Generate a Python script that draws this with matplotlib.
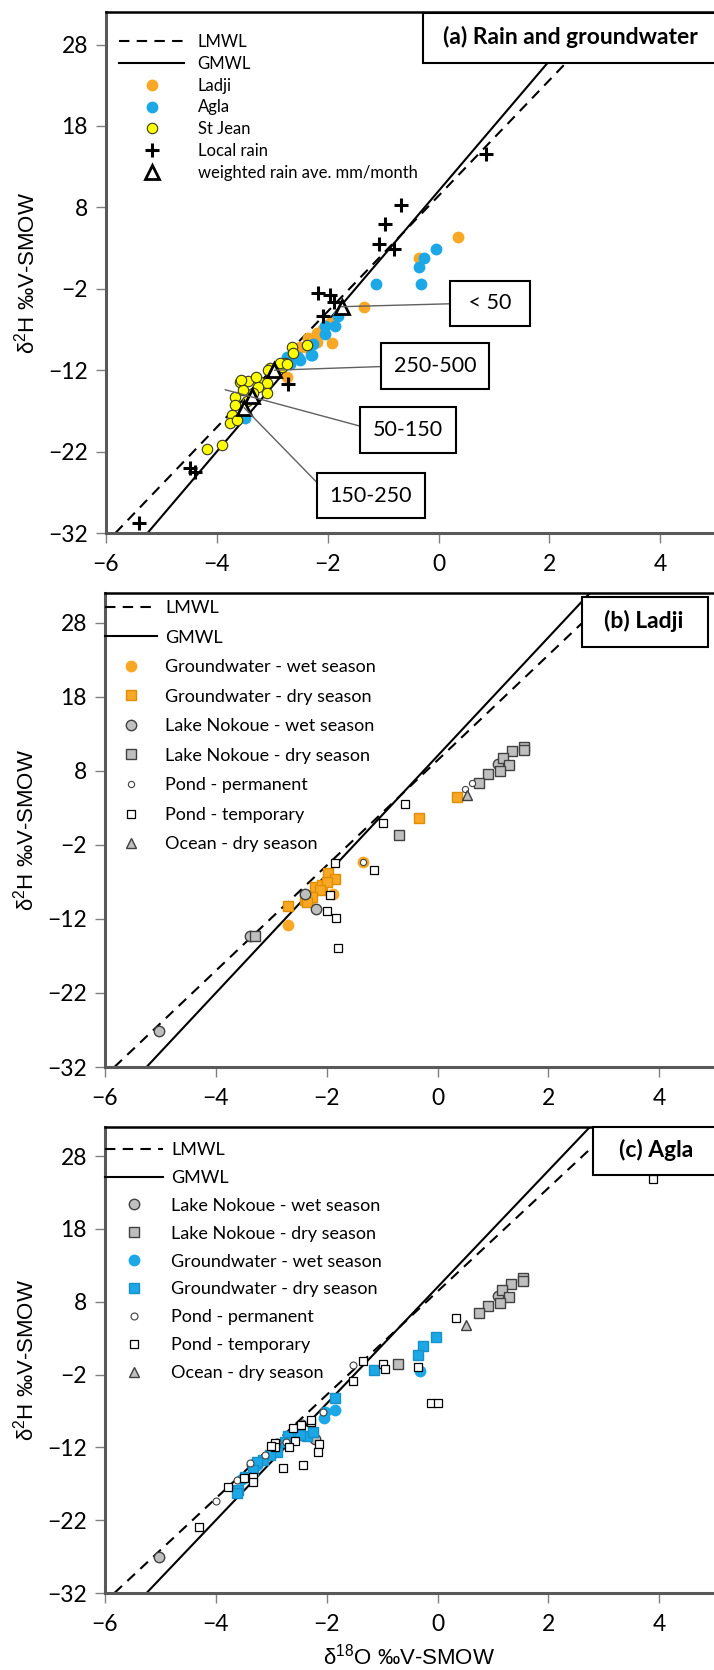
# recreate the three d2H vs d18O panels (rain/groundwater, Ladji, Agla)
import matplotlib
matplotlib.use('Agg')
import matplotlib.pyplot as plt
from matplotlib.patches import Rectangle

plt.rcParams['font.family'] = ['Lato', 'DejaVu Sans']
plt.rcParams['mathtext.fontset'] = 'custom'
plt.rcParams['mathtext.rm'] = 'Liberation Sans'
plt.rcParams['mathtext.it'] = 'Liberation Sans:italic'

ORANGE = '#F9A825'
BLUE = '#1CA8E6'
GREY = '#BFBFBF'
EDGE = '#404040'

# meteoric water lines (end points)
lmwl_x = [-5.83, 3.18]
lmwl_y = [-32, 32]
gmwl_x = [-5.25, 2.75]
gmwl_y = [-32, 32]

# ---- panel (a) rain and groundwater
ladji_x = [0.35, -0.35, -1.34, -2.35, -2.2, -1.92, -1.96, -2.4, -2.08, -2.73, -2.5, -2.2]
ladji_y = [4.4, 1.8, -4.2, -8.0, -7.4, -8.6, -6.2, -9.1, -7.0, -12.8, -9.2, -8.5]
agla_x = [-0.04, -0.27, -0.35, -1.12, -0.31, -1.81, -2.05, -1.87, -2.05, -2.26, -2.28,
          -2.5, -2.68, -2.73, -2.3, -2.53, -3.5]
agla_y = [2.9, 1.8, 0.7, -1.4, -1.4, -5.4, -6.6, -6.6, -7.6, -8.8, -10.1,
          -10.7, -11.3, -10.4, -10.1, -10.4, -17.9]
stjean_x = [-2.64, -2.62, -2.37, -2.77, -2.82, -3.04, -3.08, -2.86, -2.73, -3.58, -3.44,
            -3.22, -3.09, -3.26, -3.53, -3.35, -3.09, -3.67, -3.67, -3.73, -3.76, -3.64,
            -3.91, -4.18, -3.56, -3.3, -3.45]
stjean_y = [-9.2, -9.9, -8.9, -11.1, -11.6, -11.7, -12.0, -11.1, -11.3, -13.4, -13.3,
            -13.4, -13.6, -14.1, -14.4, -14.8, -14.8, -15.3, -16.3, -17.5, -18.5, -18.1,
            -21.2, -21.7, -13.2, -12.8, -15.8]
rain_x = [0.86, -0.68, -0.97, -1.07, -0.80, -2.17, -1.95, -1.88, -2.08, -2.72, -4.48, -4.39, -5.40]
rain_y = [14.6, 8.3, 6.0, 3.5, 2.9, -2.5, -2.8, -3.6, -5.4, -13.7, -24.0, -24.5, -30.8]
wrain_x = [-1.75, -2.96, -3.37, -3.51]
wrain_y = [-4.2, -12.0, -15.2, -16.6]
wrain_labels = [' < 50 ', '250-500', '50-150', '150-250']
wrain_label_x = [0.93, -0.06, -0.55, -1.22]
wrain_label_y = [-3.8, -11.5, -19.3, -27.4]
wrain_line_x = [-1.75, -2.96, -3.85, -3.51]
wrain_line_y = [-4.2, -12.0, -14.4, -16.6]

# ---- panel (b) Ladji
b_gw_wet_x = [-2.70, -1.34, -1.88, -2.3]
b_gw_wet_y = [-12.8, -4.3, -8.6, -9.3]
b_gw_dry_x = [0.36, -0.33, -2.69, -2.39, -2.21, -2.08, -1.97, -1.85, -1.99, -2.12, -2.26, -2.35]
b_gw_dry_y = [4.45, 1.66, -10.3, -9.5, -7.7, -7.4, -5.8, -6.6, -7.0, -8.1, -9.0, -9.7]
b_lake_wet_x = [1.1, -2.39, -2.2, -3.39, -5.03]
b_lake_wet_y = [8.9, -8.6, -10.7, -14.3, -27.1]
b_lake_dry_x = [1.56, 1.56, 1.35, 1.19, 1.29, 1.13, 0.92, 0.75, -0.70, -3.29]
b_lake_dry_y = [11.25, 10.8, 10.6, 9.7, 8.8, 7.9, 7.6, 6.4, -0.7, -14.3]
b_pond_perm_x = [0.49, 0.62, -1.34]
b_pond_perm_y = [5.5, 6.3, -4.3]
b_pond_temp_x = [-0.58, -0.99, -1.85, -1.14, -1.94, -2.0, -1.84, -1.79]
b_pond_temp_y = [3.5, 0.95, -4.4, -5.4, -8.8, -10.9, -11.9, -15.9]
b_ocean_x = [0.53]
b_ocean_y = [4.7]

# ---- panel (c) Agla
c_lake_wet_x = [1.1, -2.21, -3.35, -5.03]
c_lake_wet_y = [8.8, -10.8, -14.4, -27.1]
c_lake_dry_x = [1.54, 1.55, 1.33, 1.17, 1.29, 1.12, 0.92, 0.74, -0.72]
c_lake_dry_y = [11.2, 10.8, 10.5, 9.6, 8.7, 7.8, 7.4, 6.5, -0.6]
c_gw_wet_x = [-0.31, -1.85, -2.05, -2.03, -2.6, -3.26, -3.53]
c_gw_wet_y = [-1.5, -6.8, -7.9, -7.2, -10.3, -14.4, -16.4]
c_gw_dry_x = [-0.03, -0.27, -0.35, -1.14, -1.85, -2.36, -2.25, -2.48, -2.7, -2.75, -2.9,
              -3.02, -3.15, -3.26, -3.33, -3.47, -3.6, -3.62]
c_gw_dry_y = [3.1, 1.9, 0.75, -1.4, -5.2, -10.5, -9.9, -10.3, -10.5, -11.2, -12.6,
              -13.0, -13.7, -14.0, -15.1, -16.0, -17.8, -18.2]
c_pond_perm_x = [-1.52, -2.07, -2.45, -3.11, -3.38, -3.62, -3.99, -2.9, -2.74]
c_pond_perm_y = [-0.7, -7.1, -8.7, -13.1, -14.1, -16.5, -19.3, -11.2, -11.3]
c_pond_temp_x = [3.88, 0.34, -0.35, -0.12, 0.0, -0.98, -0.95, -1.34, -1.52, -2.29, -2.61,
                 -2.14, -2.15, -2.43, -2.79, -2.57, -2.68, -2.93, -2.93, -3.0, -3.33, -3.33,
                 -3.49, -3.78, -4.3, -2.28, -2.46]
c_pond_temp_y = [24.9, 5.7, -1.0, -5.9, -5.9, -0.5, -1.2, -0.1, -2.9, -8.5, -9.3,
                 -11.5, -12.6, -14.4, -14.8, -11.1, -12.0, -11.4, -12.0, -11.8, -16.0, -16.8,
                 -16.2, -17.5, -22.9, -8.3, -8.9]
c_ocean_x = [0.51]
c_ocean_y = [4.8]

xticks = [-6, -4, -2, 0, 2, 4]
yticks = [-32, -22, -12, -2, 8, 18, 28]
ylabel = r'$\mathregular{\delta^{2}}$H ‰V-SMOW'
xlabel = r'$\mathregular{\delta^{18}}$O ‰V-SMOW'

W, H = 714, 1670
fig = plt.figure(figsize=(W / 100, H / 100), dpi=100)


def make_axes(left, top, bottom):
    # pixel positions -> figure fractions; x range -6..6 runs past the right edge
    ax = fig.add_axes([left / W, 1 - bottom / H, 665 / W, (bottom - top) / H])
    ax.set_xlim(-6, 6)
    ax.set_ylim(-32, 32)
    ax.set_xticks(xticks)
    ax.set_yticks(yticks)
    ax.tick_params(direction='out', length=7, width=1, color='#808080',
                   labelsize=16.5, pad=6)
    ax.tick_params(axis='x', pad=8)
    for s in ['left', 'bottom']:
        ax.spines[s].set_color('#595959')
        ax.spines[s].set_linewidth(2.2)
    ax.spines['top'].set_color('black')
    ax.spines['top'].set_linewidth(1.8)
    ax.set_ylabel(ylabel, fontsize=16, family=['Liberation Sans', 'DejaVu Sans'])
    ax.yaxis.set_label_coords(-0.10, 0.5)
    return ax


def water_lines(ax):
    ax.plot(lmwl_x, lmwl_y, color='black', lw=1.5, ls=(0, (5, 3.5)), label='LMWL', zorder=2)
    ax.plot(gmwl_x, gmwl_y, color='black', lw=1.5, label='GMWL', zorder=2)


def title_box(ax, x0, x1, y0, y1, tx, ty, text):
    ax.add_patch(Rectangle((x0, y0), x1 - x0, y1 - y0, transform=ax.transAxes,
                           fc='white', ec='black', lw=1.5, zorder=6, clip_on=False))
    ax.text(tx, ty, text, transform=ax.transAxes, ha='center', va='center',
            fontsize=16.5, fontweight='bold', zorder=7)


# ---------------- panel (a)
ax1 = make_axes(106, 12, 533)
water_lines(ax1)
ax1.plot(ladji_x, ladji_y, ls='none', marker='o', ms=7.5, mfc=ORANGE, mec=ORANGE, label='Ladji', zorder=3)
ax1.plot(agla_x, agla_y, ls='none', marker='o', ms=7.5, mfc=BLUE, mec=BLUE, label='Agla', zorder=3)
ax1.plot(stjean_x, stjean_y, ls='none', marker='o', ms=7.5, mfc='#FFFF00', mec='#3A3A1A',
         mew=0.8, label='St Jean', zorder=3)
ax1.plot(rain_x, rain_y, ls='none', marker='+', ms=10, mew=2.2, color='black',
         label='Local rain', zorder=4)
ax1.plot(wrain_x, wrain_y, ls='none', marker='^', ms=10, mfc='white', mec='black', mew=2,
         label='weighted rain ave. mm/month', zorder=4)
for i in range(len(wrain_labels)):
    ax1.annotate(wrain_labels[i], xy=(wrain_line_x[i], wrain_line_y[i]),
                 xytext=(wrain_label_x[i], wrain_label_y[i]), ha='center', va='center',
                 fontsize=15.5, zorder=5,
                 bbox=dict(boxstyle='square,pad=0.6', fc='white', ec='black', lw=1.5),
                 arrowprops=dict(arrowstyle='-', color='#606060', lw=1, relpos=(0, 0.5),
                                 shrinkA=0, shrinkB=0))
ax1.legend(loc='upper left', bbox_to_anchor=(0.02, 0.958), frameon=False, fontsize=12,
           handlelength=3.9, handletextpad=0.8, labelspacing=0.35, borderpad=0,
           borderaxespad=0, numpoints=1)
title_box(ax1, 0.4767, 0.919, 0.902, 0.998, 0.698, 0.952, '(a) Rain and groundwater')

# ---------------- panel (b)
ax2 = make_axes(105, 593, 1067)
water_lines(ax2)
ax2.plot(b_gw_wet_x, b_gw_wet_y, ls='none', marker='o', ms=7.5, mfc=ORANGE, mec=ORANGE,
         label='Groundwater - wet season', zorder=3)
ax2.plot(b_gw_dry_x, b_gw_dry_y, ls='none', marker='s', ms=7.5, mfc=ORANGE, mec='#E08E00',
         label='Groundwater - dry season', zorder=3)
ax2.plot(b_lake_wet_x, b_lake_wet_y, ls='none', marker='o', ms=7.5, mfc=GREY, mec=EDGE,
         mew=1, label='Lake Nokoue - wet season', zorder=3)
ax2.plot(b_lake_dry_x, b_lake_dry_y, ls='none', marker='s', ms=7.5, mfc=GREY, mec=EDGE,
         mew=1, label='Lake Nokoue - dry season', zorder=3)
ax2.plot(b_pond_perm_x, b_pond_perm_y, ls='none', marker='o', ms=4.5, mfc='white', mec=EDGE,
         mew=0.8, label='Pond - permanent', zorder=3)
ax2.plot(b_pond_temp_x, b_pond_temp_y, ls='none', marker='s', ms=5.5, mfc='white', mec='black',
         mew=0.9, label='Pond - temporary', zorder=3)
ax2.plot(b_ocean_x, b_ocean_y, ls='none', marker='^', ms=7.5, mfc=GREY, mec=EDGE,
         mew=1, label='Ocean - dry season', zorder=3)
ax2.legend(loc='upper left', bbox_to_anchor=(0.0, 0.985), frameon=False, fontsize=13,
           handlelength=2.9, handletextpad=0.45, labelspacing=0.75, borderpad=0,
           borderaxespad=0, numpoints=1)
title_box(ax2, 0.717, 0.907, 0.886, 0.9916, 0.8105, 0.941, '(b) Ladji')

# ---------------- panel (c)
ax3 = make_axes(105, 1127, 1593)
water_lines(ax3)
ax3.plot(c_lake_wet_x, c_lake_wet_y, ls='none', marker='o', ms=7.5, mfc=GREY, mec=EDGE,
         mew=1, label='Lake Nokoue - wet season', zorder=3)
ax3.plot(c_lake_dry_x, c_lake_dry_y, ls='none', marker='s', ms=7.5, mfc=GREY, mec=EDGE,
         mew=1, label='Lake Nokoue - dry season', zorder=3)
ax3.plot(c_gw_wet_x, c_gw_wet_y, ls='none', marker='o', ms=7.5, mfc=BLUE, mec=BLUE,
         label='Groundwater - wet season', zorder=3)
ax3.plot(c_gw_dry_x, c_gw_dry_y, ls='none', marker='s', ms=7.5, mfc=BLUE, mec='#1590C8',
         label='Groundwater - dry season', zorder=3)
ax3.plot(c_pond_perm_x, c_pond_perm_y, ls='none', marker='o', ms=5, mfc='white', mec=EDGE,
         mew=0.8, label='Pond - permanent', zorder=3)
ax3.plot(c_pond_temp_x, c_pond_temp_y, ls='none', marker='s', ms=6, mfc='white', mec='black',
         mew=0.9, label='Pond - temporary', zorder=3)
ax3.plot(c_ocean_x, c_ocean_y, ls='none', marker='^', ms=7.5, mfc=GREY, mec=EDGE,
         mew=1, label='Ocean - dry season', zorder=3)
ax3.legend(loc='upper left', bbox_to_anchor=(0.0, 0.968), frameon=False, fontsize=13,
           handlelength=3.2, handletextpad=0.45, labelspacing=0.66, borderpad=0,
           borderaxespad=0, numpoints=1)
title_box(ax3, 0.734, 0.92, 0.897, 1.0, 0.829, 0.951, '(c) Agla')
ax3.set_xlabel(xlabel, fontsize=16, family=['Liberation Sans', 'DejaVu Sans'])
ax3.xaxis.label.set_va('center')
ax3.xaxis.set_label_coords(0.457, -(1657 - 1593) / 466)

fig.savefig('out.png', dpi=100)
